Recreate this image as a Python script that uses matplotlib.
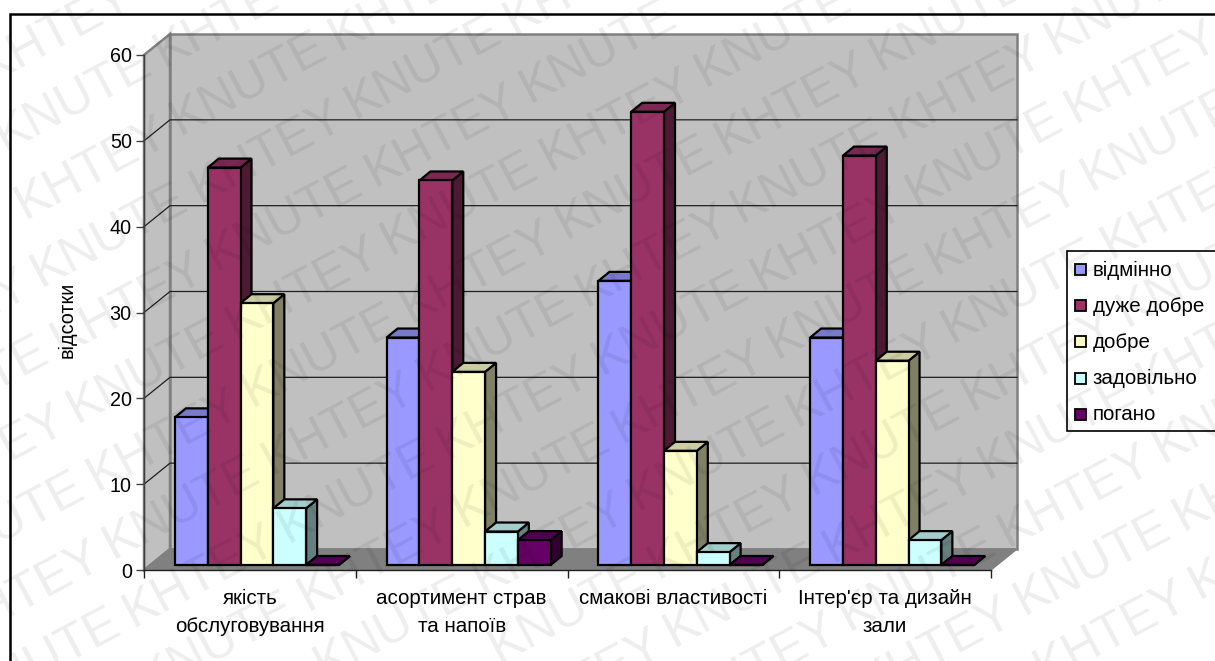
import matplotlib
matplotlib.use("Agg")
import matplotlib.pyplot as plt
from matplotlib.colors import to_rgb
from matplotlib.patches import Polygon, Rectangle

plt.rcParams["font.family"] = ["Liberation Sans", "DejaVu Sans"]

# ----------- DATA ------------
categories = ["якість\nобслуговування", "асортимент страв\nта напоїв",
              "смакові властивості", "Інтер'єр та дизайн\nзали"]
series_names = ["відмінно", "дуже добре", "добре", "задовільно", "погано"]
vidminno = [17.2, 26.5, 33.1, 26.5]
duzhe_dobre = [46.3, 44.8, 52.8, 47.7]
dobre = [30.5, 22.5, 13.3, 23.8]
zadovilno = [6.6, 3.9, 1.5, 2.9]
pogano = [0, 2.9, 0, 0]
series_values = [vidminno, duzhe_dobre, dobre, zadovilno, pogano]
series_colors = ["#9999FF", "#993366", "#FFFFCC", "#CCFFFF", "#660066"]
y_ticks = [0, 10, 20, 30, 40, 50, 60]
y_label = "відсотки"
watermark_words = ["KHTEY", "KNUTE"]

# ----------- LAYOUT (pixels) ------------
W, H = 1215, 661
AX_L, AX_R, AX_T, AX_B = 144, 991, 55, 570
DEPTH_X, DEPTH_Y = 26, 21      # wall offset behind the axis plane
BAR_DX, BAR_DY = 11, 9         # depth of a single bar
BAR_OFF_X, BAR_OFF_Y = 6, 5    # bar front face behind the axis plane

fig = plt.figure(figsize=(W / 100, H / 100), dpi=100, facecolor="white")
ax = fig.add_axes([AX_L / W, 1 - AX_B / H, (AX_R - AX_L) / W, (AX_B - AX_T) / H])
ax.set_xlim(0, len(categories))
ax.set_ylim(0, 60)
ax.patch.set_visible(False)

# pixel sizes expressed in data units
px_x = len(categories) / (AX_R - AX_L)
px_y = 60 / (AX_B - AX_T)
dx, dy = DEPTH_X * px_x, DEPTH_Y * px_y
n_cat = len(categories)


def shade(color, k):
    r, g, b = to_rgb(color)
    return (r * k, g * k, b * k)


def poly(points, face, edge="black", lw=1.6, z=2):
    ax.add_patch(Polygon(points, closed=True, facecolor=face, edgecolor=edge,
                         linewidth=lw, zorder=z, clip_on=False, joinstyle="miter"))


# ----------- WALLS + FLOOR ------------
poly([(0, 0), (dx, dy), (dx, 60 + dy), (0, 60)], "#C0C0C0", "#808080", 1.8, 1)
poly([(dx, dy), (n_cat + dx, dy), (n_cat + dx, 60 + dy), (dx, 60 + dy)],
     "#C0C0C0", "#808080", 1.8, 1)
poly([(0, 0), (n_cat, 0), (n_cat + dx, dy), (dx, dy)], "#808080", "#808080", 1, 1)

for t in y_ticks[1:-1]:
    ax.plot([0, dx, n_cat + dx], [t, t + dy, t + dy], color="#202020", lw=0.9,
            zorder=1.5, clip_on=False)

# ----------- BARS ------------
bar_w = 32.8 * px_x
group_start = 0.146
bx, by = BAR_DX * px_x, BAR_DY * px_y
oy = BAR_OFF_Y * px_y

for s, (values, color) in enumerate(zip(series_values, series_colors)):
    for c, v in enumerate(values):
        x0 = c + group_start + s * bar_w
        x1 = x0 + bar_w
        y0, y1 = oy, oy + v
        z = 3 + c + s * 0.1
        poly([(x1, y0), (x1 + bx, y0 + by), (x1 + bx, y1 + by), (x1, y1)],
             shade(color, 0.5), z=z)
        poly([(x0, y1), (x1, y1), (x1 + bx, y1 + by), (x0 + bx, y1 + by)],
             shade(color, 0.8), z=z)
        poly([(x0, y0), (x1, y0), (x1, y1), (x0, y1)], color, z=z)

# ----------- AXES ------------
for name in ("top", "right"):
    ax.spines[name].set_visible(False)
ax.spines["left"].set_color("#404040")
ax.spines["bottom"].set_color("#202020")
ax.spines["left"].set_linewidth(1.0)
ax.spines["bottom"].set_linewidth(1.0)
ax.set_yticks(y_ticks)
ax.tick_params(axis="y", labelsize=14.2, length=5.8, width=1, pad=3, color="#404040")
ax.set_xticks(range(n_cat + 1))
ax.set_xticklabels([])
ax.tick_params(axis="x", which="major", length=5.8, width=1, color="#202020")
ax.set_xticks([c + 0.5 for c in range(n_cat)], minor=True)
ax.set_xticklabels(categories, minor=True, fontsize=14.8, linespacing=1.55)
ax.tick_params(axis="x", which="minor", length=0, pad=14)
ax.set_ylabel(y_label, fontsize=14.2)
ax.yaxis.set_label_coords(-0.08, 0.485)

# ----------- LEGEND ------------
fig.add_artist(Rectangle((1067 / W, 1 - 431 / H), (W + 5 - 1067) / W, 180 / H,
                         transform=fig.transFigure, facecolor="white",
                         edgecolor="black", linewidth=1.2, clip_on=False, zorder=6))
for i, (name, color) in enumerate(zip(series_names, series_colors)):
    y_px = 270 + i * 36.2
    fig.add_artist(Rectangle((1075 / W, 1 - (y_px + 5) / H), 11 / W, 11 / H,
                             transform=fig.transFigure, facecolor=color,
                             edgecolor="black", linewidth=1.3, zorder=7))
    fig.text(1093 / W, 1 - y_px / H, name, fontsize=14.8, va="center", zorder=7)

# ----------- FRAME + WATERMARK ------------
fig.add_artist(Rectangle((9.5 / W, -0.05), (W + 10) / W, 1.05 - 14 / H,
                         transform=fig.transFigure, fill=False,
                         edgecolor="black", linewidth=1.8, zorder=0.5))
for row in range(-14, 20):
    for col in range(-12, 12):
        word = watermark_words[(row + col) % 2]
        x_px = 1142 + col * 157 + row * 18
        y_px = 72 - col * 84 + row * 68
        # only words that reach into the figure
        if -60 < x_px < W + 60 and -30 < y_px < H + 30:
            fig.text(x_px / W, 1 - y_px / H, word, fontsize=36, color="#000000",
                     alpha=0.07, rotation=28, ha="center", va="center",
                     rotation_mode="anchor", zorder=20)

fig.savefig("out.png", dpi=100)
